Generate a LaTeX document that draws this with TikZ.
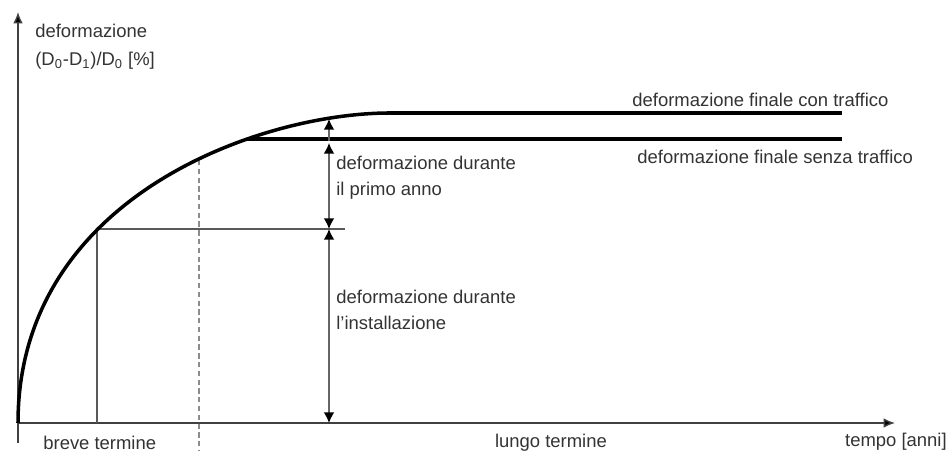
\documentclass[tikz,border=0pt]{standalone}
\usepackage{fontspec}
\setmainfont{Liberation Sans}
\usetikzlibrary{arrows.meta}
\begin{document}
\begin{tikzpicture}[
        x=0.02cm, y=0.02cm,   % one unit = one pixel of the reference
        >={Latex[length=6.5pt,width=5.5pt,fill=black]},
        axis/.style={draw=black!75, line width=0.8pt},
        curvebold/.style={line width=2pt},
        finalline/.style={line width=2.7pt},
        guide/.style={draw=black!65, line width=0.6pt},
        tip/.tip={Latex[length=6pt,width=6pt,fill=black,color=black]},
        dim/.style={draw=black!60, line width=0.8pt},
        txt/.style={inner sep=0pt, text=black!80, font=\fontsize{10.5}{14.7}\selectfont, align=left}
    ]
    \useasboundingbox (0,0) rectangle (949,452);

    % axes
    \coordinate (O) at (18,29);
    \coordinate (ybot) at (18,9);
    \coordinate (ytop) at (18,440);
    \coordinate (xend) at (895,29);
    \draw[axis,->] (ybot) -- (ytop);
    \draw[axis,->] (O) -- (xend);

    % points on the curve
    \coordinate (P) at (97,223);    % end of installation
    \coordinate (Q) at (390,339);   % curve reaches final value with traffic
    \coordinate (B) at (247,313);   % branch without traffic
    \coordinate (Uend) at (842,339);
    \coordinate (Lend) at (842,313);

    % guide lines
    \draw[guide] (97,29) -- (P) -- (345,223);
    \draw[draw=black!45, line width=0.8pt, dash pattern=on 3pt off 2pt] (199,292) -- (199,2);

    % deformation curve and final values
    \draw[curvebold] (O) .. controls (18,255) and (260,339) .. (Q);
    \draw[finalline] (Q) -- (Uend);
    \draw[finalline] (B) -- (Lend);

    % dimension arrows
    \coordinate (a1) at (329,333);
    \coordinate (a2) at (329,311);
    \coordinate (a3) at (329,309);
    \coordinate (a4) at (329,223);
    \coordinate (a5) at (329,29);
    \draw[dim,-tip] (a2) -- (a1);
    \draw[dim,tip-tip] (a3) -- (a4);
    \draw[dim,tip-tip] (a4) -- (a5);

    % labels
    \node[txt, anchor=west] (ylab) at (35,405) {deformazione\\[1.5pt](D\textsubscript{0}-D\textsubscript{1})/D\textsubscript{0} [\%]};
    \node[txt, anchor=west] (con) at (632,352) {deformazione finale con traffico};
    \node[txt, anchor=west] (senza) at (637,295) {deformazione finale senza traffico};
    \node[txt, anchor=west] (primo) at (336,274) {deformazione durante\\il primo anno};
    \node[txt, anchor=west] (inst) at (336,142) {deformazione durante\\l'installazione};
    \node[txt, anchor=west] (breve) at (43,9) {breve termine};
    \node[txt] (lungo) at (551,9) {lungo termine};
    \node[txt, anchor=east] (tempo) at (947,10) {tempo [anni]};
\end{tikzpicture}
\end{document}
